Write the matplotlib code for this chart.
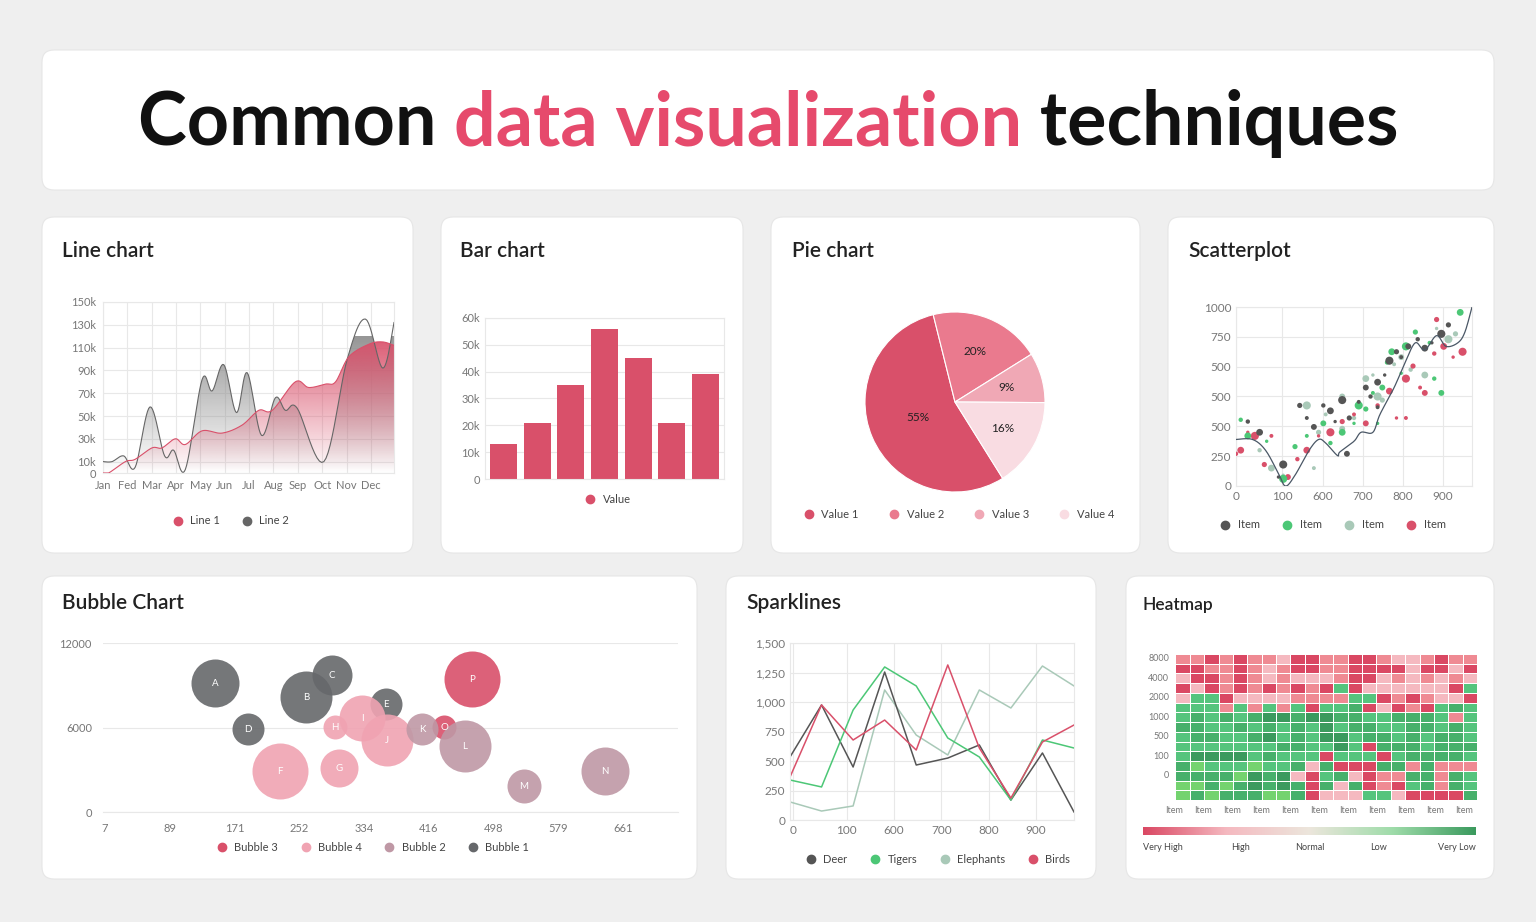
import numpy as np
import matplotlib
matplotlib.use('Agg')
import matplotlib.pyplot as plt
from matplotlib.patches import FancyBboxPatch
from matplotlib.lines import Line2D
from matplotlib.colors import LinearSegmentedColormap, ListedColormap, to_rgb

plt.rcParams['font.family'] = ['Lato', 'DejaVu Sans']

W, H = 1536, 922
RED = '#d9506a'
GRID = '#e8e8e8'
TICK = '#777777'

# ---- data ----
months = ['Jan', 'Fed', 'Mar', 'Apr', 'May', 'Jun', 'Jul', 'Aug', 'Sep', 'Oct', 'Nov', 'Dec']
line2_x = [0, 0.37, 0.85, 1.32, 1.93, 2.53, 2.9, 3.38, 4.07, 4.48, 4.96, 5.48, 5.92, 6.51, 7.08, 7.49, 7.97, 9.07, 10.03, 10.78, 11.49, 11.95]
line2_y = [10, 10, 15, 5, 58, 15, 20, 3, 82, 72, 95, 53, 88, 33, 66, 55, 57, 10, 100, 135, 92, 132]
line1_x = [0, 0.23, 0.92, 1.32, 2.01, 2.42, 2.97, 3.38, 4.07, 4.89, 5.71, 6.4, 6.95, 7.9, 8.45, 9.14, 9.55, 10.1, 10.92, 11.47, 11.95]
line1_y = [0, 0, 10, 12, 22, 22, 30, 25, 37, 35, 42, 55, 55, 80, 75, 78, 80, 102, 113, 115, 112]

bar_values = [13, 21, 35, 56, 45, 21, 39]

pie_labels = ['Value 1', 'Value 2', 'Value 3', 'Value 4']
pie_values = [55, 20, 9, 16]
pie_colors = ['#d9506a', '#ea7a8e', '#f0a8b5', '#f9dce2']

sc_dark = [(0.05, 0.36), (0.1, 0.3), (0.18, 0.05), (0.2, 0.12), (0.27, 0.45), (0.3, 0.38), (0.33, 0.33), (0.37, 0.45),
           (0.4, 0.42), (0.42, 0.36), (0.45, 0.48), (0.48, 0.38), (0.52, 0.47), (0.55, 0.55), (0.57, 0.5), (0.6, 0.58),
           (0.63, 0.62), (0.65, 0.7), (0.68, 0.75), (0.7, 0.72), (0.73, 0.78), (0.77, 0.82), (0.8, 0.77), (0.83, 0.8),
           (0.87, 0.85), (0.9, 0.9), (0.6, 0.44), (0.47, 0.18)]
sc_green = [(0.02, 0.37), (0.05, 0.28), (0.13, 0.25), (0.2, 0.04), (0.25, 0.22), (0.3, 0.28), (0.37, 0.35), (0.4, 0.24),
            (0.45, 0.3), (0.5, 0.35), (0.52, 0.45), (0.55, 0.43), (0.58, 0.52), (0.62, 0.55), (0.64, 0.69), (0.66, 0.75),
            (0.7, 0.63), (0.72, 0.78), (0.76, 0.86), (0.82, 0.8), (0.87, 0.52), (0.84, 0.6), (0.95, 0.97), (0.6, 0.35)]
sc_light = [(0.1, 0.2), (0.15, 0.1), (0.2, 0.06), (0.3, 0.45), (0.35, 0.3), (0.38, 0.4), (0.45, 0.32), (0.5, 0.38),
            (0.55, 0.6), (0.58, 0.62), (0.6, 0.5), (0.62, 0.48), (0.67, 0.68), (0.7, 0.72), (0.74, 0.65), (0.8, 0.62),
            (0.85, 0.88), (0.9, 0.82), (0.93, 0.85), (0.33, 0.1), (0.45, 0.5)]
sc_red = [(0.0, 0.18), (0.02, 0.2), (0.05, 0.3), (0.08, 0.28), (0.12, 0.12), (0.15, 0.28), (0.22, 0.05), (0.26, 0.15),
          (0.3, 0.2), (0.35, 0.28), (0.4, 0.3), (0.45, 0.36), (0.5, 0.4), (0.55, 0.35), (0.6, 0.45), (0.65, 0.53),
          (0.68, 0.38), (0.72, 0.6), (0.75, 0.67), (0.78, 0.55), (0.8, 0.52), (0.84, 0.74), (0.88, 0.78), (0.92, 0.72),
          (0.96, 0.75), (0.85, 0.93), (0.72, 0.38)]
trend_x = [0, 0.07, 0.125, 0.18, 0.21, 0.25, 0.31, 0.35, 0.38, 0.43, 0.44, 0.5, 0.53, 0.58, 0.61, 0.67, 0.72, 0.76, 0.8, 0.85, 0.89, 0.94, 0.97, 1.0]
trend_y = [0.26, 0.26, 0.2, 0.07, 0.0, 0.06, 0.2, 0.26, 0.24, 0.17, 0.19, 0.25, 0.3, 0.3, 0.4, 0.55, 0.7, 0.8, 0.76, 0.84, 0.78, 0.8, 0.86, 1.0]

bub_series = {
    'Bubble 1': dict(color='#66686b', pts=[('A', 215, 683, 24), ('B', 306, 697, 26), ('C', 332, 675, 20), ('D', 248, 729, 16), ('E', 386, 704, 16)]),
    'Bubble 3': dict(color='#d9506a', pts=[('P', 472, 679, 28), ('O', 444, 727, 12)]),
    'Bubble 4': dict(color='#f0a3b2', pts=[('F', 280, 771, 28), ('G', 339, 768, 19), ('H', 335, 727, 12), ('I', 362, 718, 23), ('J', 387, 740, 26)]),
    'Bubble 2': dict(color='#bf98a5', pts=[('K', 422, 729, 16), ('L', 465, 746, 26), ('M', 524, 786, 17), ('N', 605, 771, 24)]),
}
bub_xticks = [7, 89, 171, 252, 334, 416, 498, 579, 661]

spark_deer = [534, 975, 449, 1254, 466, 525, 636, 169, 568, 68]
spark_tigers = [339, 280, 932, 1297, 1136, 695, 534, 169, 678, 610]
spark_eleph = [153, 76, 119, 1102, 720, 551, 1102, 949, 1305, 1136]
spark_birds = [364, 975, 678, 847, 593, 1314, 610, 186, 661, 805]
spark_xlabels = ['0', '100', '600', '700', '800', '900']

heat_rows = [
    '556565546655665445655', '665565456655666646646', '466565454445664545454', '646565656562644444462',
    '422644445555226565446', '222525252622164656212', '212121001001122111252', '112212121202112211212',
    '211221021200211212112', '222222211220261112111', '200002122262226211112', '132223221416661151555',
    '111130104621465511512', '331310101614165621512', '313111331644422466661']
heat_ylabels = ['8000', '4000', '2000', '1000', '500', '100', '0']
heat_levels = ['Very High', 'High', 'Normal', 'Low', 'Very Low']

# ---- figure ----
fig = plt.figure(figsize=(W / 100, H / 100), dpi=100)
fig.patch.set_facecolor('#efefef')
bg = fig.add_axes([0, 0, 1, 1])
bg.set_xlim(0, W)
bg.set_ylim(H, 0)
bg.axis('off')


def panel(x0, y0, x1, y1):
    bg.add_patch(FancyBboxPatch((x0, y0), x1 - x0, y1 - y0, boxstyle='round,pad=0,rounding_size=12',
                                fc='white', ec='#e6e6e6', lw=0.8))


def box(x0, y0, x1, y1):
    return fig.add_axes([x0 / W, 1 - y1 / H, (x1 - x0) / W, (y1 - y0) / H])


def style(ax, size=8):
    for s in ax.spines.values():
        s.set_color(GRID)
    ax.tick_params(length=0, labelsize=size, colors=TICK)
    ax.grid(True, color=GRID, lw=0.8)
    ax.set_axisbelow(True)


def legend(cx, cy, labels, colors, gap=20):
    handles = [Line2D([], [], marker='o', ls='', color=c, markersize=6) for c in colors]
    fig.legend(handles, labels, loc='center', bbox_to_anchor=(cx / W, 1 - cy / H), ncol=len(labels),
               frameon=False, fontsize=8, handletextpad=0.1, columnspacing=gap / 10, labelcolor='#444')


def smooth(xs, ys, n=12):
    xs, ys = np.asarray(xs, float), np.asarray(ys, float)
    px = np.concatenate([[xs[0]], xs, [xs[-1]]])
    py = np.concatenate([[ys[0]], ys, [ys[-1]]])
    ox, oy = [], []
    t = np.linspace(0, 1, n, endpoint=False)
    for i in range(1, len(px) - 2):
        for arr, out in ((px, ox), (py, oy)):
            p0, p1, p2, p3 = arr[i - 1:i + 3]
            out.extend(0.5 * (2 * p1 + (-p0 + p2) * t + (2 * p0 - 5 * p1 + 4 * p2 - p3) * t ** 2 + (-p0 + 3 * p1 - 3 * p2 + p3) * t ** 3))
    ox.append(xs[-1]); oy.append(ys[-1])
    return np.array(ox), np.array(oy)


def grad_fill(ax, x, y, color, top_alpha, ymax):
    rgb = to_rgb(color)
    img = np.zeros((100, 1, 4))
    img[:, 0, :3] = rgb
    img[:, 0, 3] = np.linspace(top_alpha, 0.0, 100)
    im = ax.imshow(img, extent=[x.min(), x.max(), 0, ymax], aspect='auto', origin='upper', zorder=1)
    poly, = ax.fill(np.concatenate([x, [x[-1], x[0]]]), np.concatenate([y, [0, 0]]), facecolor='none', edgecolor='none')
    im.set_clip_path(poly)


# title
panel(42, 50, 1494, 190)
parts = [('Common ', '#111111'), ('data visualization', '#e64a6c'), (' techniques', '#111111')]
fig.canvas.draw()
r = fig.canvas.get_renderer()
texts = [bg.text(0, 124, s, fontsize=53, fontweight='bold', color=c, va='center') for s, c in parts]
widths = [t.get_window_extent(r).width for t in texts]
x = (W - sum(widths)) / 2
for t, w in zip(texts, widths):
    t.set_x(x)
    x += w

# panels
for p in [(42, 217, 413, 553), (441, 217, 743, 553), (771, 217, 1140, 553), (1168, 217, 1494, 553),
          (42, 576, 697, 879), (726, 576, 1096, 879), (1126, 576, 1494, 879)]:
    panel(*p)
for (x0, y0, s) in [(62, 251, 'Line chart'), (460, 251, 'Bar chart'), (792, 251, 'Pie chart'), (1188, 251, 'Scatterplot'),
                    (62, 603, 'Bubble Chart'), (746, 603, 'Sparklines'), (1143, 605, 'Heatmap')]:
    bg.text(x0, y0, s, fontsize=15 if s != 'Heatmap' else 12.5, fontweight='semibold', color='#222', va='center')

# line chart
ax = box(103, 302, 394, 473)
style(ax)
for xs, ys, c, a in [(line2_x, line2_y, '#8a8a8a', 0.9), (line1_x, line1_y, RED, 0.95)]:
    sx, sy = smooth(xs, ys)
    sy = np.clip(sy, 0, None)
    grad_fill(ax, sx, sy, c, a, 120)
    ax.plot(sx, sy, color='#666' if c != RED else RED, lw=0.8, zorder=3)
ax.set_xlim(0, 11.95)
ax.set_ylim(0, 150)
ax.set_xticks(range(12))
ax.set_xticklabels(months)
ax.set_yticks([0, 10, 30, 50, 70, 90, 110, 130, 150])
ax.set_yticklabels(['0', '10k', '30k', '50k', '70k', '90k', '110k', '130k', '150k'])
ax.tick_params(pad=5)
legend(228, 521, ['Line 1', 'Line 2'], [RED, '#666'], gap=14)

# bar chart
ax = box(485, 318, 724, 479)
style(ax)
ax.grid(axis='x', visible=False)
ax.bar(range(len(bar_values)), bar_values, width=0.8, color=RED)
ax.set_xlim(-0.55, len(bar_values) - 0.45)
ax.set_ylim(0, 60)
ax.set_xticks([])
ax.set_yticks(range(0, 61, 10))
ax.set_yticklabels(['0'] + ['%dk' % v for v in range(10, 61, 10)])
legend(605, 499, ['Value'], [RED])

# pie chart
ax = box(865, 312, 1045, 492)
wedges, _ = ax.pie(pie_values, colors=pie_colors, startangle=-58, counterclock=False, radius=1,
                   wedgeprops=dict(edgecolor='white', linewidth=0.8))
for w_, v in zip(wedges, pie_values):
    ang = np.deg2rad((w_.theta1 + w_.theta2) / 2)
    rr = 0.45 if v > 50 else 0.6
    ax.text(rr * np.cos(ang), rr * np.sin(ang), '%d%%' % v, ha='center', va='center', fontsize=8.5, color='#222')
ax.set_xlim(-1, 1)
ax.set_ylim(-1, 1)
ax.set_aspect('equal')
legend(956, 514, pie_labels, pie_colors, gap=22)

# scatterplot
ax = box(1236, 307, 1472, 486)
style(ax)
sizes = [10, 24, 6, 34, 14, 8, 18]
for pts, c in [(sc_light, '#a9c9b8'), (sc_red, '#d9506a'), (sc_green, '#4cc776'), (sc_dark, '#555555')]:
    arr = np.array(pts)
    ax.scatter(arr[:, 0], arr[:, 1], s=[sizes[i % len(sizes)] for i in range(len(arr))], color=c, lw=0, zorder=3)
tx, ty = smooth(trend_x, trend_y)
ax.plot(tx, ty, color='#4a5766', lw=0.9, zorder=4)
ax.set_xlim(0, 1)
ax.set_ylim(0, 1)
ax.set_xticks([0, 0.195, 0.369, 0.538, 0.708, 0.877])
ax.set_xticklabels(['0', '100', '600', '700', '800', '900'])
ax.set_yticks(np.arange(7) / 6)
ax.set_yticklabels(['0', '250', '500', '500', '500', '750', '1000'])
ax.tick_params(labelsize=8.5)
legend(1330, 525, ['Item'] * 4, ['#555555', '#4cc776', '#a9c9b8', '#d9506a'], gap=15)

# bubble chart
ax = box(103, 643, 678, 812)
style(ax)
ax.grid(axis='x', visible=False)
pxu = (623 - 105) / (661 - 7)
for name, d in bub_series.items():
    for lab, px, py, rad in d['pts']:
        bx = (px - 105) / pxu + 7
        by = (812 - py) / 169 * 12000
        ax.scatter(bx, by, s=(2 * rad * 0.72) ** 2, color=d['color'], alpha=0.9, lw=0, zorder=3)
        ax.text(bx, by, lab, ha='center', va='center', fontsize=7, color='white', zorder=4)
ax.set_xlim(7 - 2 / pxu, 7 + (678 - 105) / pxu)
ax.set_ylim(0, 12000)
ax.set_xticks(bub_xticks)
ax.set_yticks([0, 6000, 12000])
ax.tick_params(pad=8)
for s in ['left', 'right', 'top']:
    ax.spines[s].set_visible(False)
names = ['Bubble 3', 'Bubble 4', 'Bubble 2', 'Bubble 1']
legend(370, 847, names, [bub_series[n]['color'] for n in names], gap=15)

# sparklines
ax = box(790, 643, 1074, 820)
style(ax)
for vals, c in [(spark_eleph, '#a9c9b8'), (spark_deer, '#555555'), (spark_tigers, '#4cc776'), (spark_birds, '#d9506a')]:
    ax.plot(range(len(vals)), vals, color=c, lw=1.1)
ax.set_xlim(0, 9)
ax.set_ylim(0, 1500)
ax.set_xticks([0.1, 1.8, 3.3, 4.8, 6.3, 7.8])
ax.set_xticklabels(spark_xlabels)
ax.set_yticks(range(0, 1501, 250))
ax.set_yticklabels(['0', '250', '500', '750', '1,000', '1,250', '1,500'])
ax.tick_params(labelsize=8.5)
legend(935, 859, ['Deer', 'Tigers', 'Elephants', 'Birds'], ['#555555', '#4cc776', '#a9c9b8', '#d9506a'], gap=15)

# heatmap
ax = box(1174, 654, 1477, 800)
grid = np.array([[int(ch) for ch in row] for row in heat_rows])
hcols = ['#3b9a5e', '#47b06b', '#55c47d', '#74d36f', '#f5b9c0', '#ef8a93', '#da4863']
ax.pcolormesh(grid, cmap=ListedColormap(hcols), vmin=-0.5, vmax=6.5, edgecolors='white', linewidth=0.5)
ax.set_ylim(len(heat_rows), 0)
ax.set_xlim(0, grid.shape[1])
for s in ax.spines.values():
    s.set_visible(False)
ax.tick_params(length=0, labelsize=6.5, colors=TICK)
ax.set_yticks(np.arange(7) * 2 + 0.4)
ax.set_yticklabels(heat_ylabels)
ax.set_xticks(np.linspace(0, grid.shape[1] - 0.8, 11) - 0.1)
ax.set_xticklabels(['Item'] * 11)
ax.tick_params(axis='x', pad=4)
cax = box(1143, 827, 1476, 835)
cmap = LinearSegmentedColormap.from_list('g', ['#da4863', '#f5b9c0', '#ece6dc', '#9fdcaa', '#3b9a5e'])
cax.imshow(np.linspace(0, 1, 256)[None, :], aspect='auto', cmap=cmap)
cax.axis('off')
for lab, px in zip(heat_levels, [1143, 1241, 1310, 1379, 1476]):
    ha = 'left' if px == 1143 else ('right' if px == 1476 else 'center')
    bg.text(px, 847, lab, ha=ha, va='center', fontsize=6.5, color='#444')

fig.savefig('out.png', dpi=100, facecolor=fig.get_facecolor())
